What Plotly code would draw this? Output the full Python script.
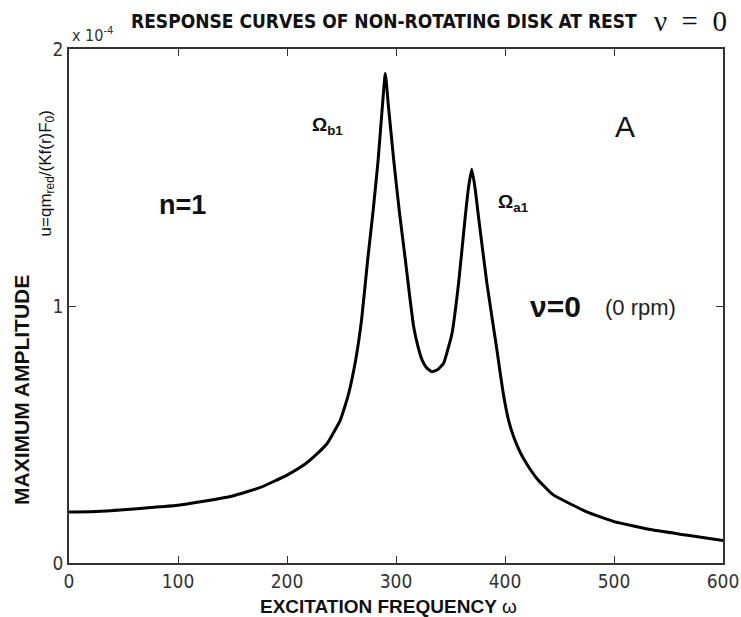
import plotly.graph_objects as go

# Excitation frequency (omega) and maximum amplitude (in units of 1e-4)
omega = [0, 25, 50, 75, 100, 125, 150, 175, 200, 215, 225, 237, 249, 256, 263,
         268.5, 274, 279, 283.6, 287, 290.2, 293, 297.9, 303, 308.6, 312.5, 316.2,
         320, 323.9, 328, 333, 338, 343.7, 347.5, 351.4, 357.4, 363.5, 366.5, 369.5,
         372.5, 375.7, 383.4, 392.6, 398, 403, 408, 414, 420, 429, 444, 475, 500, 536,
         566, 600]
amplitude = [0.198, 0.200, 0.207, 0.216, 0.225, 0.241, 0.261, 0.293, 0.342, 0.38,
             0.415, 0.466, 0.557, 0.65, 0.79, 0.95, 1.179, 1.37, 1.568, 1.75, 1.905,
             1.78, 1.568, 1.37, 1.179, 1.04, 0.919, 0.845, 0.79, 0.76, 0.744, 0.752,
             0.777, 0.83, 0.894, 1.088, 1.347, 1.46, 1.532, 1.46, 1.347, 1.088, 0.829,
             0.67, 0.56, 0.49, 0.43, 0.385, 0.33, 0.266, 0.199, 0.161, 0.128, 0.109, 0.087]

x_ticks = [0, 100, 200, 300, 400, 500, 600]
y_ticks = [0, 1, 2]

NARROW = "Liberation Sans Narrow, DejaVu Sans Condensed, Arial Narrow, sans-serif"
SANS = "Liberation Sans, Arial, sans-serif"
SERIF = "Liberation Serif, Times New Roman, serif"

fig = go.Figure()
fig.add_trace(go.Scatter(x=omega, y=amplitude, mode="lines",
                         line=dict(color="black", width=3, shape="spline", smoothing=0.4),
                         hoverinfo="skip"))

axis_common = dict(showgrid=False, zeroline=False, showline=True, linecolor="#333",
                   linewidth=1.5, mirror="ticks", ticks="inside", ticklen=7,
                   tickwidth=1.2, tickcolor="#333", automargin=False,
                   tickfont=dict(family=NARROW, size=19, color="#333"))

fig.update_xaxes(range=[0, 600], tickvals=x_ticks, **axis_common)
fig.update_yaxes(range=[0, 2], tickvals=y_ticks, **axis_common)

ann = []
# Title pieces
ann.append(dict(text="RESPONSE CURVES OF NON-ROTATING DISK AT REST", xref="paper", yref="paper",
                x=0.481, y=1.0545, xanchor="center", yanchor="middle", showarrow=False,
                font=dict(family=NARROW, size=19, color="#111", weight="bold")))
ann.append(dict(text="ν\u00a0\u00a0=\u00a0\u00a00", xref="paper", yref="paper", x=0.950, y=1.055,
                xanchor="center", yanchor="middle", showarrow=False,
                font=dict(family=SERIF, size=29, color="#111")))
ann.append(dict(text="x 10<sup>-4</sup>", xref="paper", yref="paper", x=0.0015, y=1.029,
                xanchor="left", yanchor="middle", showarrow=False,
                font=dict(family=NARROW, size=16, color="#333")))
# Axis titles
ann.append(dict(text="<b>EXCITATION FREQUENCY</b> ω", xref="paper", yref="paper",
                x=0.489, y=-0.0837, xanchor="center", yanchor="middle", showarrow=False,
                font=dict(family=SANS, size=19, color="#111")))
ann.append(dict(text="<b>MAXIMUM AMPLITUDE</b>", xref="paper", yref="paper",
                x=-0.0719, y=0.3366, xanchor="center", yanchor="middle", showarrow=False,
                textangle=-90, font=dict(family=SANS, size=21, color="#111")))
ann.append(dict(text="u=qm<sub>red</sub>/(Kf(r)F<sub>0</sub>)", xref="paper", yref="paper",
                x=-0.0336, y=0.758, xanchor="center", yanchor="middle", showarrow=False,
                textangle=-90, font=dict(family=SANS, size=17, color="#111")))
# In-plot labels
ann.append(dict(text="<b>Ω<sub>b1</sub></b>", x=221, y=1.70, xanchor="left", yanchor="middle",
                showarrow=False, font=dict(family=SANS, size=19, color="#111")))
ann.append(dict(text="<b>Ω<sub>a1</sub></b>", x=392, y=1.40, xanchor="left", yanchor="middle",
                showarrow=False, font=dict(family=SANS, size=19, color="#111")))
ann.append(dict(text="A", x=510, y=1.70, xanchor="center", yanchor="middle",
                showarrow=False, font=dict(family=SANS, size=30, color="#111")))
ann.append(dict(text="<b>n=1</b>", x=103.7, y=1.393, xanchor="center", yanchor="middle",
                showarrow=False, font=dict(family=SANS, size=27, color="#111")))
ann.append(dict(text="<b>ν=0</b>", x=421, y=1.0, xanchor="left", yanchor="middle",
                showarrow=False, font=dict(family=SANS, size=30, color="#111")))
ann.append(dict(text="(0 rpm)", x=490, y=0.996, xanchor="left", yanchor="middle",
                showarrow=False, font=dict(family=SANS, size=22, color="#222")))

fig.update_layout(width=741, height=617, autosize=False,
                  margin=dict(l=69, r=18, t=49, b=54),
                  paper_bgcolor="white", plot_bgcolor="white", showlegend=False,
                  annotations=ann)

fig.write_html("out.html")
